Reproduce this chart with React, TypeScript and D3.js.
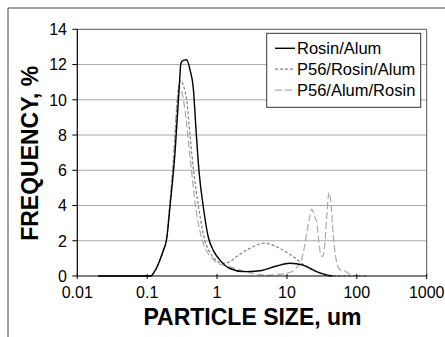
import * as d3 from "d3";

// particle size (um) and frequency (%)
const rosinAlumSize = [0.02, 0.05, 0.1, 0.113, 0.125, 0.14, 0.152, 0.17, 0.19, 0.212, 0.25, 0.288, 0.304, 0.335, 0.367, 0.41, 0.457, 0.5, 0.55, 0.635, 0.75, 0.9, 1.1, 1.5, 2.4, 4.1, 7.1, 11, 17, 26.5, 37, 45];
const rosinAlumFreq = [0, 0, 0, 0, 0.2, 0.55, 0.91, 1.45, 2.1, 3.94, 6.97, 10.76, 12.08, 12.25, 12.27, 11.7, 10.66, 8.3, 6.0, 3.93, 2.2, 1.4, 0.9, 0.44, 0.25, 0.3, 0.57, 0.72, 0.62, 0.25, 0.06, 0];

const p56RosinAlumSize = [0.02, 0.05, 0.1, 0.113, 0.125, 0.14, 0.152, 0.17, 0.19, 0.21, 0.245, 0.275, 0.3, 0.33, 0.37, 0.41, 0.46, 0.54, 0.67, 0.8, 1.0, 1.2, 1.5, 1.9, 2.96, 4.8, 7.9, 12.3, 19, 30, 40, 140];
const p56RosinAlumFreq = [0, 0, 0, 0, 0.2, 0.55, 0.9, 1.4, 2.15, 4.0, 7.2, 10.3, 11.1, 10.8, 9.9, 8.0, 6.0, 4.0, 2.0, 1.3, 0.85, 0.72, 0.8, 1.1, 1.57, 1.86, 1.57, 1.1, 0.53, 0.15, 0, 0];

const p56AlumRosinSize = [0.02, 0.05, 0.1, 0.113, 0.125, 0.14, 0.152, 0.17, 0.19, 0.21, 0.24, 0.265, 0.285, 0.31, 0.35, 0.39, 0.43, 0.49, 0.62, 0.8, 1.0, 1.5, 2.6, 4.6, 7, 9, 12.3, 14.5, 16.3, 19.2, 21, 22.5, 24, 25.5, 26.6, 28.5, 30.5, 32.4, 34.5, 37, 39, 40.3, 42, 45.8, 49, 52, 58, 67, 75, 89];
const p56AlumRosinFreq = [0, 0, 0, 0, 0.2, 0.55, 0.9, 1.4, 2.15, 3.9, 7.0, 9.7, 10.7, 10.5, 9.3, 7.6, 6.0, 4.0, 2.0, 1.1, 0.75, 0.53, 0.25, 0.05, 0.08, 0.12, 0.3, 0.6, 0.95, 2.42, 3.3, 3.79, 3.6, 3.25, 3.1, 2.0, 1.2, 1.1, 1.6, 3.3, 4.5, 4.75, 4.4, 2.42, 1.3, 0.7, 0.35, 0.3, 0.15, 0];

const seriesNames = ["Rosin/Alum", "P56/Rosin/Alum", "P56/Alum/Rosin"];
const xTicks = [0.01, 0.1, 1, 10, 100, 1000];
const xTickLabels = ["0.01", "0.1", "1", "10", "100", "1000"];
const yTicks = [0, 2, 4, 6, 8, 10, 12, 14];

const W = 445;
const H = 337;
const font = "'Liberation Sans', Arial, sans-serif";

export default function App() {
  const m = { left: 77.3, right: 426.7, top: 29.3, bottom: 276 };
  const x = d3.scaleLog().domain([0.01, 1000]).range([m.left, m.right]);
  const y = d3.scaleLinear().domain([0, 14]).range([m.bottom, m.top]);

  const line = d3
    .line<[number, number]>()
    .x((d) => x(d[0]))
    .y((d) => y(d[1]))
    .curve(d3.curveMonotoneX);

  const zip = (a: number[], b: number[]) => a.map((v, i) => [v, b[i]] as [number, number]);

  // drawn back to front
  const series = [
    { name: seriesNames[2], pts: zip(p56AlumRosinSize, p56AlumRosinFreq), color: "#aaaaaa", dash: "7,3", w: 1.2 },
    { name: seriesNames[1], pts: zip(p56RosinAlumSize, p56RosinAlumFreq), color: "#808080", dash: "3,2", w: 1.2 },
    { name: seriesNames[0], pts: zip(rosinAlumSize, rosinAlumFreq), color: "#000000", dash: "none", w: 1.4 },
  ];
  const legend = [series[2], series[1], series[0]];

  return (
    <div style={{ position: "fixed", left: 0, top: 0 }}>
      <svg width={W} height={H} style={{ display: "block", background: "#fff" }}>
        {/* outer frame (cropped) */}
        <line x1={8} y1={8} x2={W} y2={8} stroke="#444" strokeWidth={1} />
        <line x1={8} y1={8} x2={8} y2={H} stroke="#444" strokeWidth={1} />

        {/* gridlines */}
        {yTicks.slice(1, -1).map((t) => (
          <line key={t} x1={m.left} x2={m.right} y1={y(t)} y2={y(t)} stroke="#aaa" strokeWidth={1} />
        ))}
        {/* plot border top/right */}
        <line x1={m.left} x2={m.right} y1={y(14)} y2={y(14)} stroke="#555" strokeWidth={1} />
        <line x1={m.right} x2={m.right} y1={m.top} y2={m.bottom} stroke="#555" strokeWidth={1} />

        {series.map((s) => (
          <path
            key={s.name}
            d={line(s.pts) ?? ""}
            fill="none"
            stroke={s.color}
            strokeWidth={s.w}
            strokeDasharray={s.dash}
          />
        ))}

        {/* axes */}
        <line x1={m.left} x2={m.left} y1={m.top} y2={m.bottom} stroke="#000" strokeWidth={1.2} />
        <line x1={m.left} x2={m.right} y1={m.bottom} y2={m.bottom} stroke="#000" strokeWidth={1.2} />
        {yTicks.map((t) => (
          <g key={t}>
            <line x1={m.left - 5} x2={m.left} y1={y(t)} y2={y(t)} stroke="#000" />
            <text x={67} y={y(t)} dy="0.36em" textAnchor="end" fontFamily={font} fontSize={16}>
              {t}
            </text>
          </g>
        ))}
        {xTicks.map((t, i) => (
          <g key={t}>
            <line x1={x(t)} x2={x(t)} y1={m.bottom - 2} y2={m.bottom + 3} stroke="#000" />
            <text x={x(t)} y={298} textAnchor="middle" fontFamily={font} fontSize={16}>
              {xTickLabels[i]}
            </text>
          </g>
        ))}

        {/* axis titles */}
        <text x={252.5} y={325} textAnchor="middle" fontFamily={font} fontSize={23} fontWeight="bold">
          PARTICLE SIZE, um
        </text>
        <text
          transform="translate(37.5,153.3) rotate(-90)"
          textAnchor="middle"
          fontFamily={font}
          fontSize={23}
          fontWeight="bold"
        >
          FREQUENCY, %
        </text>

        {/* legend */}
        <rect x={266.7} y={33.3} width={154} height={74} fill="#fff" stroke="#333" strokeWidth={1} />
        {legend.map((s, i) => {
          const ly = 48.3 + i * 20.9;
          return (
            <g key={s.name}>
              <line x1={275} x2={295} y1={ly} y2={ly} stroke={s.color} strokeWidth={s.w} strokeDasharray={s.dash} />
              <text x={297} y={ly + 6} fontFamily={font} fontSize={16.5}>
                {s.name}
              </text>
            </g>
          );
        })}
      </svg>
    </div>
  );
}
